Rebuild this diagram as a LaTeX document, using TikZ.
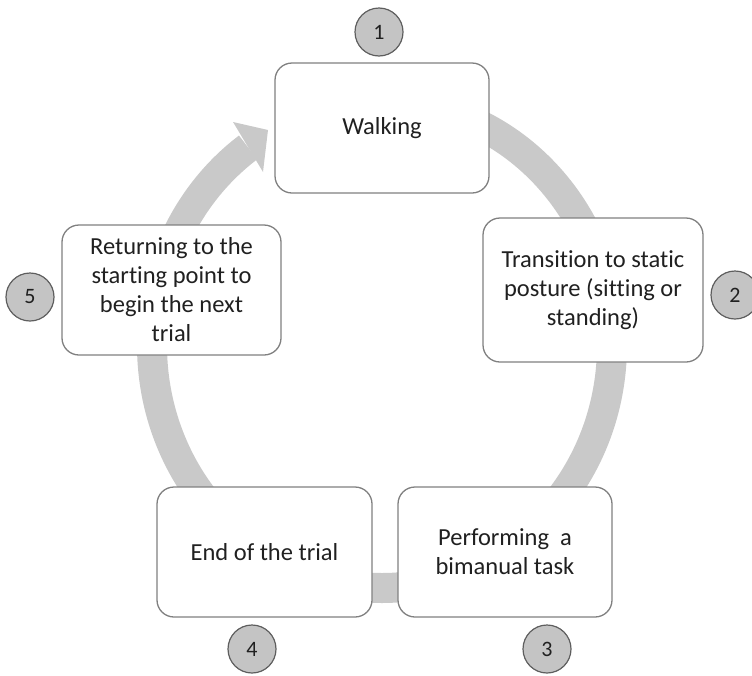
\documentclass[tikz,border=0pt]{standalone}
\usepackage{fontspec}
\setmainfont{Carlito}[Ligatures=NoCommon]
\definecolor{ringgray}{HTML}{C9C9C9}
\definecolor{boxline}{HTML}{808080}
\definecolor{badgefill}{HTML}{C4C4C4}
\definecolor{badgeline}{HTML}{5E5E5E}
\definecolor{txt}{HTML}{202020}
\begin{document}
\begin{tikzpicture}[x=1pt,y=1pt,
  stagebox/.style={draw=boxline, line width=1.3pt, fill=white, rounded corners=17pt,
    align=center, font=\fontsize{24.5}{29}\selectfont, text=txt, inner sep=0pt},
  badge/.style={circle, draw=badgeline, line width=1.2pt, fill=badgefill,
    minimum size=48pt, inner sep=0pt, font=\fontsize{22}{26}\selectfont, text=txt}]
\useasboundingbox (0,0) rectangle (752,-675);

% cycle ring behind the stages
\draw[ringgray, line width=30pt] (382,-102)
  arc[start angle=90, end angle=-234.4, x radius=230, y radius=243];
\fill[ringgray] (233,-122) -- (268,-130) -- (263,-172) -- cycle;

% stages
\node[stagebox, minimum width=214pt, minimum height=130pt] (walk) at (382,-128) {Walking};
\node[stagebox, minimum width=220pt, minimum height=144pt] (trans) at (593,-290)
  {Transition to static\\posture (sitting or\\standing)};
\node[stagebox, minimum width=214pt, minimum height=130pt] (task) at (505,-552)
  {Performing~ a\\bimanual task};
\node[stagebox, minimum width=215pt, minimum height=130pt] (end) at (264.5,-552)
  {End of the trial};
\node[stagebox, minimum width=219pt, minimum height=130pt] (ret) at (171.5,-290)
  {Returning to the\\starting point to\\begin the next\\trial};

% step numbers
\node[badge] (n1) at (379,-32) {1};
\node[badge] (n2) at (735,-295) {2};
\node[badge] (n3) at (547,-649) {3};
\node[badge] (n4) at (252,-649) {4};
\node[badge] (n5) at (30,-297) {5};
\end{tikzpicture}
\end{document}
